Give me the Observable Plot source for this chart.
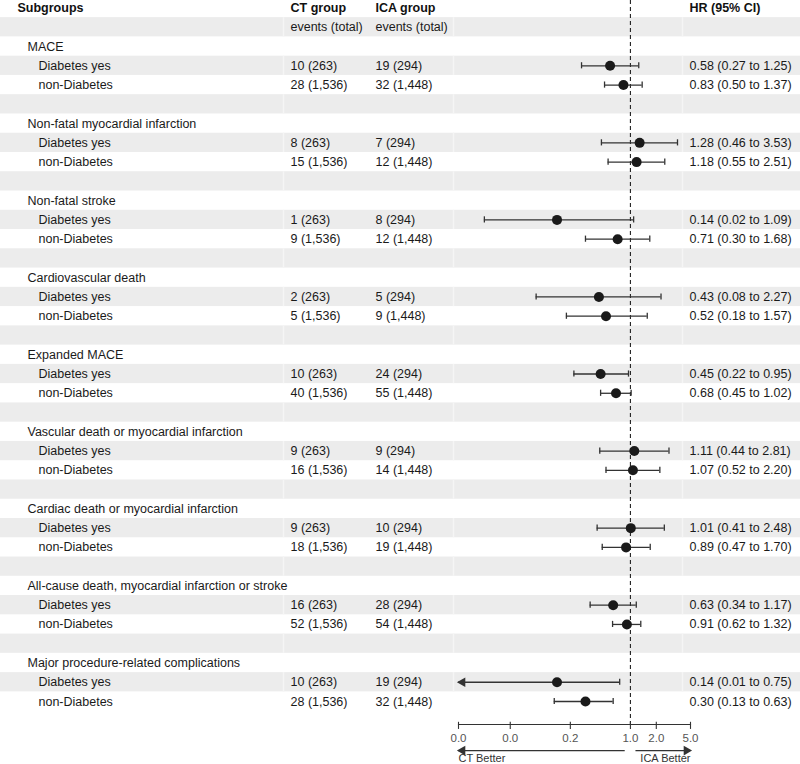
<!DOCTYPE html>
<html>
<head>
<meta charset="utf-8">
<script src="https://cdn.jsdelivr.net/npm/d3@7"></script>
<script src="https://cdn.jsdelivr.net/npm/@observablehq/plot@0.6"></script>
<style>
  body { margin: 0; background: #fff; }
  #chart svg { display: block; }
</style>
</head>
<body>
<div id="chart"></div>
<script>
// ---------- data ----------
const outcomes = [
  "MACE",
  "Non-fatal myocardial infarction",
  "Non-fatal stroke",
  "Cardiovascular death",
  "Expanded MACE",
  "Vascular death or myocardial infarction",
  "Cardiac death or myocardial infarction",
  "All-cause death, myocardial infarction or stroke",
  "Major procedure-related complications"
];
const subgroups = ["Diabetes yes", "non-Diabetes"];
const ctEvents = [
  ["10 (263)", "28 (1,536)"],
  ["8 (263)", "15 (1,536)"],
  ["1 (263)", "9 (1,536)"],
  ["2 (263)", "5 (1,536)"],
  ["10 (263)", "40 (1,536)"],
  ["9 (263)", "16 (1,536)"],
  ["9 (263)", "18 (1,536)"],
  ["16 (263)", "52 (1,536)"],
  ["10 (263)", "28 (1,536)"]
];
const icaEvents = [
  ["19 (294)", "32 (1,448)"],
  ["7 (294)", "12 (1,448)"],
  ["8 (294)", "12 (1,448)"],
  ["5 (294)", "9 (1,448)"],
  ["24 (294)", "55 (1,448)"],
  ["9 (294)", "14 (1,448)"],
  ["10 (294)", "19 (1,448)"],
  ["28 (294)", "54 (1,448)"],
  ["19 (294)", "32 (1,448)"]
];
const hrValues = [
  [0.58, 0.83], [1.28, 1.18], [0.14, 0.71], [0.43, 0.52], [0.45, 0.68],
  [1.11, 1.07], [1.01, 0.89], [0.63, 0.91], [0.14, 0.30]
];
const ciLower = [
  [0.27, 0.50], [0.46, 0.55], [0.02, 0.30], [0.08, 0.18], [0.22, 0.45],
  [0.44, 0.52], [0.41, 0.47], [0.34, 0.62], [0.01, 0.13]
];
const ciUpper = [
  [1.25, 1.37], [3.53, 2.51], [1.09, 1.68], [2.27, 1.57], [0.95, 1.02],
  [2.81, 2.20], [2.48, 1.70], [1.17, 1.32], [0.75, 0.63]
];
const xTicks = [0.01, 0.04, 0.2, 1, 2, 5];
const xDomain = [0.01, 5];
const headers = {sub: "Subgroups", ct: "CT group", ica: "ICA group", hr: "HR (95% CI)"};
const subHeader = "events (total)";
const betterLabels = ["CT Better", "ICA Better"];
const ctArrow = [0.87, 0.01];
const icaArrow = [1.16, 5];

// ---------- layout ----------
const W = 800, H = 764, ML = 458, MR = 110, MB = 40;
const colX = {sub: 17, cat: 27, grp: 38, ct: 290, ica: 375, hr: 689};
const gaps = [283, 453, 682];
const tickRows = [37.08, 37.45], tickLabelRow = 37.9;
const arrowRow = 38.55, labelRow = 38.98;
const fmt = d3.format(".2f");
const fmtTick = d3.format(".1f");

const cells = [];
const est = [];
outcomes.forEach((o, i) => {
  const r0 = 2 + 4 * i;
  cells.push({row: r0, col: "cat", text: o});
  subgroups.forEach((s, j) => {
    const r = r0 + 1 + j;
    const hr = hrValues[i][j], lo = ciLower[i][j], hi = ciUpper[i][j];
    cells.push({row: r, col: "grp", text: s});
    cells.push({row: r, col: "ct", text: ctEvents[i][j]});
    cells.push({row: r, col: "ica", text: icaEvents[i][j]});
    cells.push({row: r, col: "hr", text: `${fmt(hr)} (${fmt(lo)} to ${fmt(hi)})`});
    est.push({row: r, hr, lo, hi, clipped: lo <= xDomain[0]});
  });
});
const nRows = 2 + 4 * outcomes.length - 1;
const bandRows = d3.range(1, nRows, 2);

const ink = "#1a1a1a", lineCol = "#333";
const textMarks = ["cat", "grp", "ct", "ica", "hr"].map(c =>
  Plot.text(cells.filter(d => d.col === c), {
    y: "row", text: "text", frameAnchor: "left", dx: colX[c] - ML,
    textAnchor: "start", fill: ink, fontSize: 12.5
  })
);
const headerMarks = Object.keys(headers).map(c =>
  Plot.text([headers[c]], {
    y: () => 0, text: d => d, frameAnchor: "left", dx: colX[c] - ML,
    textAnchor: "start", fill: "#111", fontSize: 12.5, fontWeight: "bold"
  })
);
const subHeaderMarks = ["ct", "ica"].map(c =>
  Plot.text([subHeader], {
    y: () => 1, text: d => d, frameAnchor: "left", dx: colX[c] - ML,
    textAnchor: "start", fill: ink, fontSize: 12.5
  })
);

const chart = Plot.plot({
  width: W, height: H,
  marginLeft: ML, marginRight: MR, marginTop: 0, marginBottom: MB,
  style: {fontFamily: "'Liberation Sans', Arial, Helvetica, sans-serif", background: "#fff"},
  x: {type: "log", domain: xDomain, range: [ML, W - MR], axis: null},
  y: {domain: [0, nRows - 1], range: [7.5, 701], axis: null},
  marks: [
    Plot.rect(bandRows, {
      x1: () => xDomain[0], x2: () => xDomain[1],
      y1: r => r - 0.5, y2: r => r + 0.5,
      fill: "#ececec", insetLeft: -ML, insetRight: -MR
    }),
    ...gaps.map(g => Plot.ruleX(bandRows, {
      x: () => xDomain[0], dx: g - ML, y1: r => r - 0.5, y2: r => r + 0.5,
      stroke: "#f5f5f5", strokeWidth: 1.5
    })),
    Plot.ruleX([1], {stroke: "#222", strokeWidth: 1.1, strokeDasharray: "4,3"}),
    Plot.ruleY(est, {
      y: "row", x1: d => Math.max(d.lo, xDomain[0]), x2: "hi",
      stroke: lineCol, strokeWidth: 1.3
    }),
    Plot.ruleX(est, {x: "hi", y1: d => d.row - 0.16, y2: d => d.row + 0.16, stroke: lineCol, strokeWidth: 1.3}),
    Plot.ruleX(est.filter(d => !d.clipped), {x: "lo", y1: d => d.row - 0.16, y2: d => d.row + 0.16, stroke: lineCol, strokeWidth: 1.3}),
    Plot.dot(est.filter(d => d.clipped), {
      x: () => xDomain[0], y: "row", symbol: "triangle", rotate: -90,
      r: 3.6, fill: lineCol, stroke: null, dx: 4
    }),
    Plot.dot(est, {x: "hr", y: "row", r: 5, fill: ink, stroke: null}),
    // x axis
    Plot.frame({anchor: "bottom", stroke: lineCol, strokeWidth: 1.1}),
    Plot.ruleX(xTicks, {x: d => d, y1: () => tickRows[0], y2: () => tickRows[1], stroke: lineCol, strokeWidth: 1.1}),
    Plot.text(xTicks, {x: d => d, y: () => tickLabelRow, text: d => fmtTick(d), fontSize: 11.5, fill: "#555"}),
    // better-direction arrows
    Plot.ruleY([arrowRow], {x1: () => ctArrow[0], x2: () => ctArrow[1], stroke: lineCol, strokeWidth: 1.2}),
    Plot.dot([arrowRow], {x: () => ctArrow[1], y: d => d, symbol: "triangle", rotate: -90, r: 3.6, fill: lineCol, stroke: null, dx: 4}),
    Plot.ruleY([arrowRow], {x1: () => icaArrow[0], x2: () => icaArrow[1], stroke: lineCol, strokeWidth: 1.2}),
    Plot.dot([arrowRow], {x: () => icaArrow[1], y: d => d, symbol: "triangle", rotate: 90, r: 3.6, fill: lineCol, stroke: null, dx: -4}),
    Plot.text([betterLabels[0]], {x: () => xDomain[0], y: () => labelRow, text: d => d, textAnchor: "start", fontSize: 11, fill: "#333"}),
    Plot.text([betterLabels[1]], {x: () => xDomain[1], y: () => labelRow, text: d => d, textAnchor: "end", fontSize: 11, fill: "#333"}),
    ...headerMarks,
    ...subHeaderMarks,
    ...textMarks
  ]
});
document.getElementById("chart").appendChild(chart);
</script>
</body>
</html>
